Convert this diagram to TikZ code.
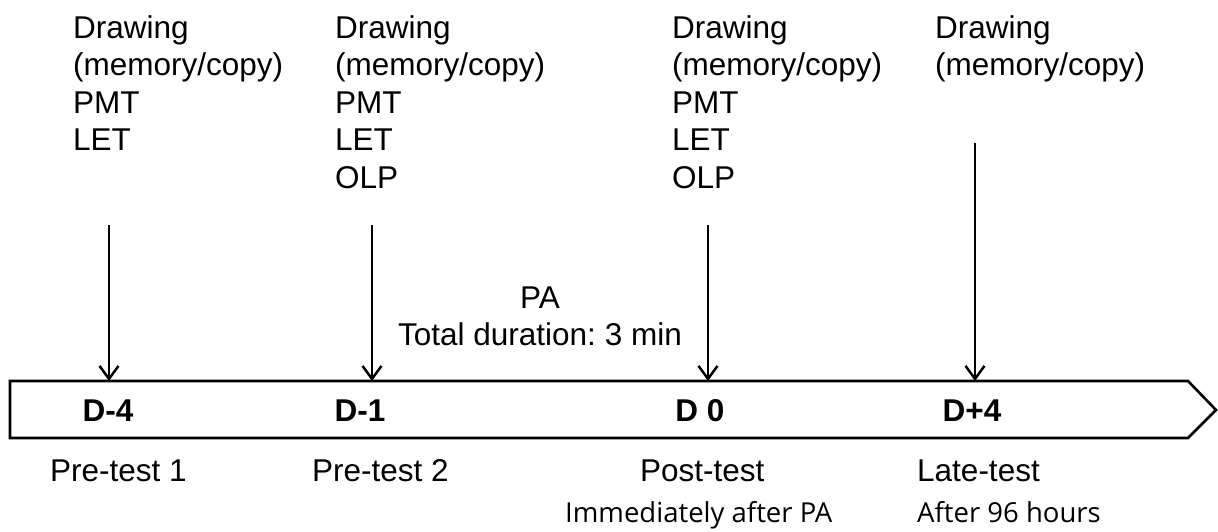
\documentclass[tikz,border=0pt]{standalone}
\usepackage{fontspec}
\setmainfont{Liberation Sans}
\newfontfamily\subfont{Open Sans}
\usetikzlibrary{arrows.meta}
\frenchspacing
\begin{document}
\begin{tikzpicture}[x=1pt,y=-1pt,
  col/.style={inner sep=0pt, anchor=north west, align=left, font=\fontsize{31.5}{37.5}\selectfont},
  lbl/.style={inner sep=0pt, anchor=base west, font=\fontsize{31.5}{37.5}\selectfont},
  day/.style={inner sep=0pt, anchor=base, font=\fontsize{31.5}{37.5}\selectfont\bfseries},
  sub/.style={inner sep=0pt, anchor=base west, font=\subfont\fontsize{27.5}{31}\selectfont},
  arr/.style={line width=2.5pt, -{Straight Barb[length=13pt,width=19pt,line width=2.5pt]}},
  band/.style={line width=2.6pt, line join=miter}]
\useasboundingbox (0,0) rectangle (1218,531);
% timeline band
\coordinate (bTL) at (10,381);
\coordinate (bTR) at (1188,381);
\coordinate (bTip) at (1216,410);
\coordinate (bBR) at (1188,438);
\coordinate (bBL) at (10,438);
\draw[band] (bTL) -- (bTR) -- (bTip) -- (bBR) -- (bBL) -- cycle;
% top texts
\node[col] (c1) at (73,15) {Drawing\\(memory/copy)\\PMT\\LET};
\node[col] (c2) at (335,15) {Drawing\\(memory/copy)\\PMT\\LET\\OLP};
\node[col] (c3) at (672,15) {Drawing\\(memory/copy)\\PMT\\LET\\OLP};
\node[col] (c4) at (935,15) {Drawing\\(memory/copy)};
% PA
\node[inner sep=0pt, anchor=north, align=center, font=\fontsize{31.5}{37.5}\selectfont] (pa) at (540,286.5) {PA\\Total duration: 3 min};
% day labels
\node[day] (d1) at (108,421) {D-4};
\node[day] (d2) at (360,421) {D-1};
\node[day] (d3) at (700,421) {D 0};
\node[day] (d4) at (972,421) {D+4};
% arrows
\coordinate (a1) at (109,225);
\coordinate (a2) at (372,225);
\coordinate (a3) at (708,225);
\coordinate (a4) at (975,143);
\draw[arr] (a1) -- (a1 |- bTL);
\draw[arr] (a2) -- (a2 |- bTL);
\draw[arr] (a3) -- (a3 |- bTL);
\draw[arr] (a4) -- (a4 |- bTL);
% bottom labels
\node[lbl] (p1) at (50,481) {Pre-test 1};
\node[lbl] (p2) at (312,481) {Pre-test 2};
\node[lbl] (p3) at (640,481) {Post-test};
\node[lbl] (p4) at (917,481) {Late-test};
\node[sub] (s3) at (565,522) {Immediately after PA};
\node[sub] (s4) at (917,522) {After 96 hours};
\end{tikzpicture}
\end{document}
